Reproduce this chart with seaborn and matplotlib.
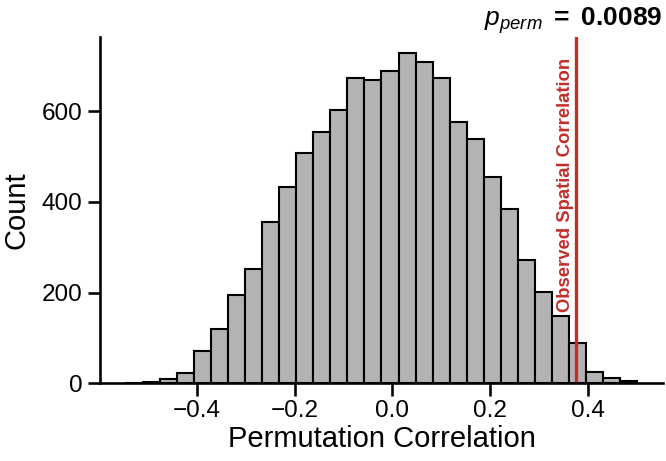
"""
Null distribution of permutation correlations with the observed spatial correlation marked.
"""

import numpy as np
import pandas as pd
import seaborn as sns
import matplotlib.pyplot as plt
import matplotlib.transforms as mtransforms

# histogram: 30 equal bins
bin_lo = -0.546
bin_hi = 0.502
counts = [1, 3, 9, 23, 71, 119, 194, 252, 355, 434,
          507, 554, 604, 673, 670, 690, 728, 709, 673, 576,
          538, 455, 385, 272, 202, 148, 88, 24, 11, 4]
observed_r = 0.376
p_perm = 0.0089
obs_label = "Observed Spatial Correlation"
x_label = "Permutation Correlation"
y_label = "Count"

sns.set_theme(context="talk", style="ticks",
              rc={'text.color': 'black', 'axes.labelcolor': 'black', 'axes.edgecolor': 'black',
                  'xtick.color': 'black', 'ytick.color': 'black'})
plt.rcParams['font.family'] = ['Liberation Sans', 'DejaVu Sans']
plt.rcParams['mathtext.fontset'] = 'custom'
plt.rcParams['mathtext.rm'] = 'Liberation Sans'
plt.rcParams['mathtext.it'] = 'Liberation Sans:italic'
plt.rcParams['mathtext.bf'] = 'Liberation Sans:bold'

edges = np.linspace(bin_lo, bin_hi, len(counts) + 1)
df = pd.DataFrame({'r': (edges[:-1] + edges[1:]) / 2, 'n': counts})

fig, ax = plt.subplots(figsize=(6.66, 4.61), dpi=100)
fig.subplots_adjust(left=0.150, right=0.9955, bottom=0.169, top=0.92)

sns.histplot(data=df, x='r', weights='n', bins=len(counts), binrange=(bin_lo, bin_hi),
             color='#b3b3b3', edgecolor='black', linewidth=1.5, alpha=1.0, ax=ax)
ax.axvline(observed_r, color='#c0302b', lw=2.4)

trans = mtransforms.blended_transform_factory(ax.transData, ax.transAxes)
ax.text(observed_r - 0.004, 0.94, obs_label, rotation=90, ha='right', va='top',
        color='#c0302b', fontsize=13.3, fontweight='bold', transform=trans)

ax.set_title(r"$p_{perm}\ \mathbf{{=}\ %s}$" % p_perm, loc='right', fontsize=19, pad=8)
ax.set_xlabel(x_label, fontsize=21, labelpad=2)
ax.set_ylabel(y_label, fontsize=21, labelpad=8)
ax.set_xticks([-0.4, -0.2, 0.0, 0.2, 0.4])
ax.set_yticks([0, 200, 400, 600])
ax.tick_params(labelsize=17.5)
sns.despine(ax=ax)

fig.savefig('out.png', dpi=100)
